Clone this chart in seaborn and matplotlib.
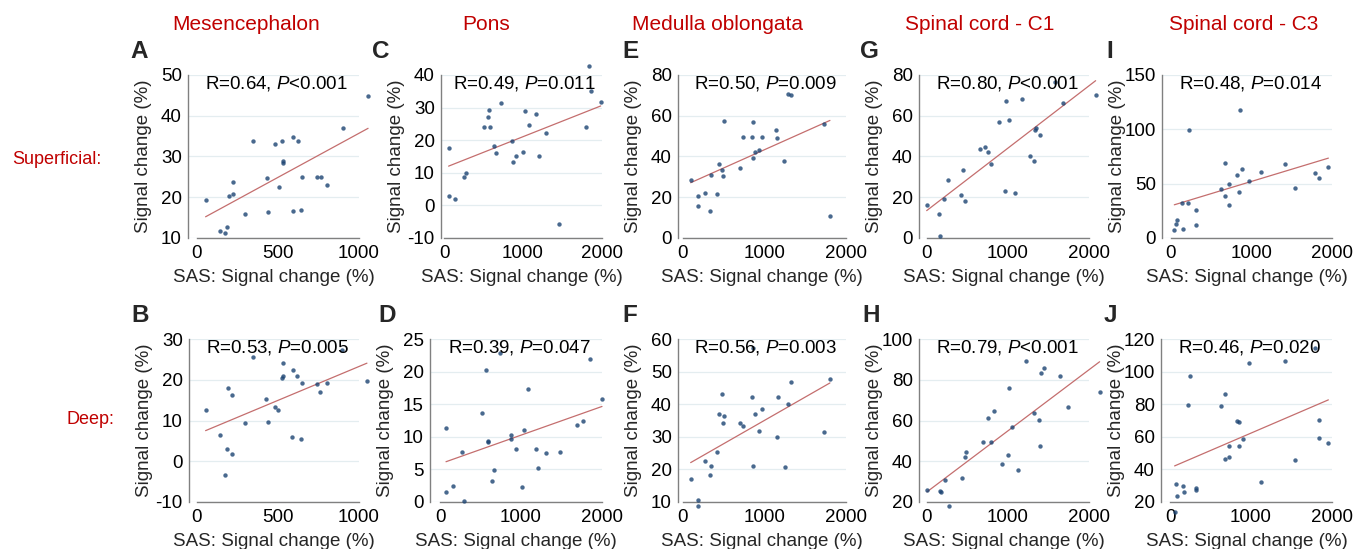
import numpy as np
import matplotlib
matplotlib.use("Agg")
import matplotlib.pyplot as plt
import seaborn as sns

# ---------------- data ----------------
regions = ["Mesencephalon", "Pons", "Medulla oblongata", "Spinal cord - C1", "Spinal cord - C3"]
row_labels = ["Superficial:", "Deep:"]
letters_sup = ["A", "C", "E", "G", "I"]
letters_deep = ["B", "D", "F", "H", "J"]
r_sup = ["0.64", "0.49", "0.50", "0.80", "0.48"]
p_sup = ["<0.001", "=0.011", "=0.009", "<0.001", "=0.014"]
r_deep = ["0.53", "0.39", "0.56", "0.79", "0.46"]
p_deep = ["=0.005", "=0.047", "=0.003", "<0.001", "=0.020"]
x_label = "SAS: Signal change (%)"
y_label = "Signal change (%)"

A_x = [53, 144, 173, 185, 195, 220, 220, 298, 348, 430, 440, 481, 504, 523, 531, 533, 593, 593, 623, 644, 648, 741, 763, 805, 899, 1056]
A_y = [19.4, 11.6, 11.3, 12.7, 20.2, 20.7, 23.7, 16.0, 33.9, 24.8, 16.5, 33.0, 22.5, 33.9, 28.3, 28.9, 34.8, 16.7, 33.8, 16.8, 24.9, 25.0, 25.0, 23.0, 37.0, 44.8]

B_x = [53, 140, 185, 171, 193, 218, 218, 298, 348, 426, 436, 481, 502, 523, 529, 531, 591, 588, 619, 640, 646, 739, 761, 800, 893, 1049]
B_y = [12.5, 6.5, 3.1, -3.3, 17.9, 16.3, 1.7, 9.4, 25.6, 15.2, 9.7, 13.2, 12.6, 20.4, 21.0, 24.0, 22.4, 5.9, 20.9, 5.5, 19.2, 18.9, 16.9, 19.1, 27.3, 19.6]

C_x = [58, 62, 145, 256, 281, 512, 558, 574, 579, 632, 661, 723, 860, 868, 917, 1000, 1025, 1070, 1169, 1198, 1285, 1459, 1793, 1855, 1835, 1983]
C_y = [17.6, 3.0, 2.0, 8.6, 9.8, 24.2, 27.1, 29.2, 24.0, 18.1, 16.2, 31.3, 19.8, 13.3, 15.3, 16.5, 29.1, 24.6, 27.9, 15.0, 22.3, -5.7, 23.9, 35.0, 42.7, 31.8]

D_x = [74, 78, 157, 272, 301, 524, 573, 590, 590, 647, 672, 738, 878, 882, 936, 1010, 1043, 1085, 1184, 1216, 1303, 1476, 1695, 1761, 1847, 2000]
D_y = [11.3, 1.6, 2.4, 7.6, 0.2, 13.6, 20.2, 9.4, 9.2, 3.2, 4.9, 22.8, 10.3, 9.7, 8.1, 2.3, 11.1, 17.3, 8.1, 5.2, 7.5, 7.7, 11.8, 12.4, 22.0, 15.8]

E_x = [94, 184, 184, 270, 344, 336, 422, 443, 484, 492, 508, 697, 734, 852, 857, 857, 889, 930, 971, 1143, 1156, 1242, 1287, 1324, 1725, 1803]
E_y = [28.3, 20.4, 15.6, 22.1, 30.9, 13.3, 21.6, 36.5, 33.3, 30.6, 57.3, 34.4, 49.7, 49.4, 57.1, 39.5, 42.0, 43.3, 49.7, 53.2, 49.2, 38.0, 70.8, 70.3, 56.1, 11.0]

F_x = [94, 184, 184, 266, 344, 336, 422, 443, 480, 492, 508, 701, 734, 852, 861, 861, 889, 934, 971, 1148, 1160, 1246, 1287, 1324, 1725, 1803]
F_y = [17.1, 10.6, 8.8, 22.5, 20.9, 18.2, 25.4, 37.0, 43.1, 34.2, 36.4, 34.2, 33.3, 42.3, 57.2, 21.0, 37.0, 31.9, 38.6, 30.0, 42.1, 20.6, 40.2, 46.9, 31.6, 47.7]

G_x = [-4, 148, 156, 214, 255, 420, 449, 465, 658, 720, 753, 790, 889, 967, 975, 1008, 1082, 1169, 1272, 1325, 1337, 1346, 1395, 1584, 1679, 2082]
G_y = [16.3, 11.7, 1.0, 19.1, 28.5, 21.1, 33.3, 18.3, 43.8, 44.9, 42.1, 36.4, 57.0, 23.0, 67.0, 58.1, 21.9, 68.0, 40.2, 38.0, 52.8, 53.8, 50.4, 76.5, 66.5, 70.1]

H_x = [0, 160, 169, 226, 272, 436, 469, 481, 687, 753, 786, 827, 926, 1004, 1016, 1049, 1128, 1218, 1321, 1379, 1391, 1403, 1449, 1642, 1741, 2131]
H_y = [26.1, 25.4, 24.8, 30.8, 17.9, 32.0, 42.0, 44.3, 49.6, 61.1, 49.6, 64.5, 38.6, 43.2, 75.9, 56.6, 35.9, 89.3, 63.7, 60.1, 47.6, 83.1, 86.0, 81.6, 66.8, 74.2]

I_x = [41, 58, 74, 140, 149, 207, 227, 306, 310, 620, 665, 674, 719, 723, 818, 843, 851, 888, 971, 1116, 1421, 1545, 1789, 1839, 1955]
I_y = [7.3, 13.2, 16.2, 31.8, 8.6, 32.1, 99.5, 11.6, 26.0, 44.7, 38.3, 68.9, 30.3, 49.6, 57.9, 41.9, 117.9, 63.1, 52.3, 60.3, 68.0, 45.9, 59.7, 55.4, 65.5]

J_x = [57, 70, 90, 156, 168, 218, 242, 320, 320, 632, 678, 682, 731, 731, 830, 854, 858, 899, 981, 1121, 1425, 1544, 1795, 1836, 1836, 1955]
J_y = [14.0, 31.1, 23.9, 29.7, 26.2, 79.8, 97.0, 28.8, 27.2, 78.9, 46.1, 86.1, 47.9, 54.5, 69.7, 54.5, 68.9, 58.4, 105.2, 32.5, 106.7, 45.7, 114.5, 70.3, 59.0, 56.3]

# axis ranges (y min, y max, y step) and x max
y_ranges_sup = [(10, 50, 10), (-10, 40, 10), (0, 80, 20), (0, 80, 20), (0, 150, 50)]
y_ranges_deep = [(-10, 30, 10), (0, 25, 5), (10, 60, 10), (20, 100, 20), (20, 120, 20)]
x_max = [1000, 2000, 2000, 2000, 2000]

# ---------------- style ----------------
sns.set_theme(style="white")
plt.rcParams["font.family"] = ["Liberation Sans", "DejaVu Sans"]
plt.rcParams["mathtext.fontset"] = "custom"
plt.rcParams["mathtext.rm"] = "Liberation Sans"
plt.rcParams["mathtext.it"] = "Liberation Sans:italic"

RED = "#c00000"
DOT = "#1b4372"
LINE = "#c46e6e"
SPINE = "#808080"
GRID = "#e4edf0"
FS = 13.5

W, H = 1358, 549
fig = plt.figure(figsize=(W / 100, H / 100), dpi=100)

# pixel layout: rows (top, bottom) and per-panel (spine_left, x0_px, xmax_px)
rows_px = [(75, 238), (339, 502)]
cols_px = [
    [(188, 197, 359), (441, 444, 602), (678, 683, 846), (919, 927, 1089), (1162, 1171, 1332)],
    [(189, 197, 359), (430, 440, 602), (678, 683, 846), (919, 927, 1089), (1161, 1170, 1332)],
]
letter_px = [
    [(130, 52), (372, 52), (622, 52), (860, 52), (1106, 52)],
    [(131, 316), (378, 316), (622, 316), (862, 316), (1104, 316)],
]

data = [
    [(A_x, A_y), (C_x, C_y), (E_x, E_y), (G_x, G_y), (I_x, I_y)],
    [(B_x, B_y), (D_x, D_y), (F_x, F_y), (H_x, H_y), (J_x, J_y)],
]
letters = [letters_sup, letters_deep]
rs = [r_sup, r_deep]
ps = [p_sup, p_deep]
yr = [y_ranges_sup, y_ranges_deep]

for ri in range(2):
    top, bot = rows_px[ri]
    for ci in range(5):
        left, x0, xm = cols_px[ri][ci]
        wpx = xm - left
        hpx = bot - top
        ax = fig.add_axes([left / W, 1 - bot / H, wpx / W, hpx / H])
        xs, ys = data[ri][ci]
        sns.regplot(
            x=np.array(xs, dtype=float), y=np.array(ys, dtype=float), ax=ax, ci=None, truncate=True,
            scatter_kws=dict(s=10, color=DOT, linewidths=0, clip_on=False, zorder=4),
            line_kws=dict(color=LINE, lw=0.9, clip_on=False, zorder=3),
        )
        xmax = x_max[ci]
        ppu = (xm - x0) / xmax
        ax.set_xlim(-(x0 - left) / ppu, xmax)
        y0, y1, ys_ = yr[ri][ci]
        ax.set_ylim(y0, y1)
        yt = np.arange(y0, y1 + 0.001, ys_)
        ax.set_yticks(yt)
        ax.set_yticklabels([f"{int(v)}" for v in yt])
        xt = np.arange(0, xmax + 1, 500)
        ax.set_xticks(xt)
        ax.set_xticklabels([f"{int(v)}" if (xmax <= 1000 or v % 1000 == 0) else "" for v in xt])
        ax.yaxis.grid(True, color=GRID, lw=0.9)
        ax.xaxis.grid(False)
        ax.set_axisbelow(True)
        for s in ["top", "right"]:
            ax.spines[s].set_visible(False)
        for s in ["left", "bottom"]:
            ax.spines[s].set_color(SPINE)
            ax.spines[s].set_linewidth(1.0)
        ax.spines["left"].set_bounds(y0, y1)
        ax.spines["bottom"].set_bounds(0, xmax)
        ax.tick_params(axis="x", direction="in", length=4, width=1, color=SPINE, pad=5, labelsize=FS, labelcolor="black")
        ax.tick_params(axis="y", direction="out", length=3, width=1, color=SPINE, pad=1.5, labelsize=FS, labelcolor="black")
        ax.set_xlabel(x_label, fontsize=FS)
        ax.set_ylabel(y_label, fontsize=FS)
        ax.xaxis.set_label_coords(0.5, -31 / hpx)
        ax.yaxis.set_label_coords(-36 / wpx, 0.5)
        ax.text(0.52, 0.95, f"R={rs[ri][ci]}, $\\mathit{{P}}${ps[ri][ci]}", transform=ax.transAxes,
                ha="center", va="center", fontsize=FS, color="black", zorder=5)
        lx, ly = letter_px[ri][ci]
        fig.text(lx / W, 1 - ly / H, letters[ri][ci], fontsize=17.5, fontweight="bold", ha="left", va="center")

title_cx = [246, 486, 718, 980, 1244]
for t, cx in zip(regions, title_cx):
    fig.text(cx / W, 1 - 25 / H, t, color=RED, fontsize=15, ha="center", va="center")

fig.text(57 / W, 1 - 160 / H, row_labels[0], color=RED, fontsize=13, ha="center", va="center")
fig.text(90 / W, 1 - 420 / H, row_labels[1], color=RED, fontsize=13, ha="center", va="center")

fig.savefig("out.png", dpi=100, facecolor="white")
